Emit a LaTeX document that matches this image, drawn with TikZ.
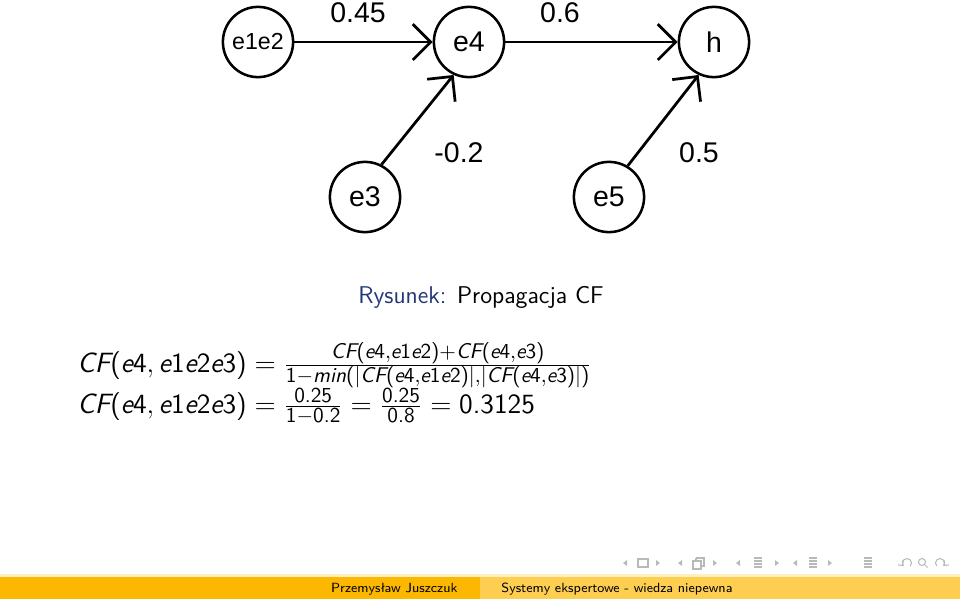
\documentclass[tikz,border=0pt]{standalone}
\usepackage{fix-cm}
\usepackage{amsmath}
\usepackage{fontspec}
\renewcommand{\familydefault}{\sfdefault}
\newfontfamily\graphfont{Liberation Sans}
\DeclareMathSizes{13.2}{13.2}{10.1}{7}
\definecolor{capblue}{RGB}{35,55,120}
\definecolor{barleft}{RGB}{252,183,0}
\definecolor{barright}{RGB}{253,206,80}
\definecolor{barline}{RGB}{254,240,190}
\definecolor{navgray}{RGB}{185,185,185}
\usetikzlibrary{arrows.meta,positioning}
% sans italic letters, upright digits (beamer style math)
\newcommand{\sv}[1]{\text{\itshape #1}}
\newcommand{\su}[1]{\text{#1}}
\newcommand{\cf}[1]{\sv{CF}\su{(}#1\su{)}}
\newcommand{\ee}[1]{\sv{e}\su{#1}}
\newcommand{\cfrule}{$\cf{\ee4, \ee1\ee2\ee3} = \frac{\cf{\ee4,\ee1\ee2}+\cf{\ee4,\ee3}}{\su{1}-\sv{min}\su{(}|\cf{\ee4,\ee1\ee2}|,|\cf{\ee4,\ee3}|\su{)}}$}
\newcommand{\cfvalue}{$\cf{\ee4, \ee1\ee2\ee3} = \frac{\su{0.25}}{\su{1}-\su{0.2}} = \frac{\su{0.25}}{\su{0.8}} = \su{0.3125}$}

\begin{document}
\begin{tikzpicture}[x=0.016667cm, y=-0.016667cm,
    state/.style={circle, draw, line width=1.2pt, minimum size=1.17cm, inner sep=0pt,
      font=\graphfont\fontsize{13.5}{14}\selectfont},
    weight/.style={font=\graphfont\fontsize{13.5}{14}\selectfont},
    arr/.style={-{Straight Barb[length=8.5pt,width=17pt]}, line width=1.3pt},
    eqline/.style={anchor=base west, inner sep=0pt, font=\fontsize{13.2}{15}\selectfont},
    footfont/.style={inner sep=0pt, font=\fontsize{6.3}{7}\selectfont},
    nav/.style={draw=navgray, line width=0.5pt}
  ]
    \useasboundingbox (0,0) rectangle (960,599);
    % Graph nodes
    \node[state] (e1e2) at (258,42) {\fontsize{11}{12}\selectfont e1e2};
    \node[state] (e4) at (469,42) {e4};
    \node[state] (h) at (714,42) {h};
    \node[state] (e3) at (365,197) {e3};
    \node[state] (e5) at (609,197) {e5};
    % Edges
    \draw[arr] (e1e2.east) -- (e4.west);
    \draw[arr] (e4.east) -- (h.west);
    \draw[arr] (e3.63) -- (e4.245);
    \draw[arr] (e5.59) -- (h.245);
    % Weights
    \node[weight] (w1) at (358,13) {0.45};
    \node[weight] (w2) at (560,13) {0.6};
    \node[weight] (w3) at (459,153) {-0.2};
    \node[weight] (w4) at (699,153) {0.5};
    % Caption
    \node[font=\fontsize{11.5}{13}\selectfont] (cap) at (481,297)
      {\textcolor{capblue}{Rysunek:} Propagacja CF};
    % Formulas
    \node[eqline] (eq1) at (77,372) {\cfrule};
    \node[eqline] (eq2) at (77,413) {\cfvalue};
    % Navigation symbols
    \foreach \x in {625,680,738,795}
      \fill[navgray] (\x-2,563) -- (\x+2,560) -- (\x+2,566) -- cycle;
    \foreach \x in {658,715,777,830}
      \fill[navgray] (\x+2,563) -- (\x-2,560) -- (\x-2,566) -- cycle;
    \draw[nav] (638,559) rectangle (648,567);
    \draw[nav] (693,561) rectangle (701,569);
    \draw[nav] (696,558) -- (704,558) -- (704,566) -- (701,566);
    \draw[nav] (696,561) -- (696,558);
    \foreach \x in {758,813,868}
      \foreach \dy in {-5,-2,1,4}
        \draw[nav] (\x-4,563+\dy) -- (\x+4,563+\dy);
    \draw[nav, -{Straight Barb[length=2pt,width=3pt]}] (910.2,566.2) arc (45:-225:4.5);
    \draw[nav] (922,562) circle (3.5);
    \draw[nav] (924.5,564.5) -- (927.5,567.5);
    \draw[nav, -{Straight Barb[length=2pt,width=3pt]}] (936.8,566.2) arc (135:405:4.5);
    % Footer bar
    \fill[barline] (0,574) rectangle (960,577);
    \fill[barleft] (0,577) rectangle (480,599);
    \fill[barright] (480,577) rectangle (960,599);
    \node[footfont, anchor=base east] (author) at (458,592) {Przemysław Juszczuk};
    \node[footfont, anchor=base west] (title) at (501,592) {Systemy ekspertowe - wiedza niepewna};
  \end{tikzpicture}
\end{document}
